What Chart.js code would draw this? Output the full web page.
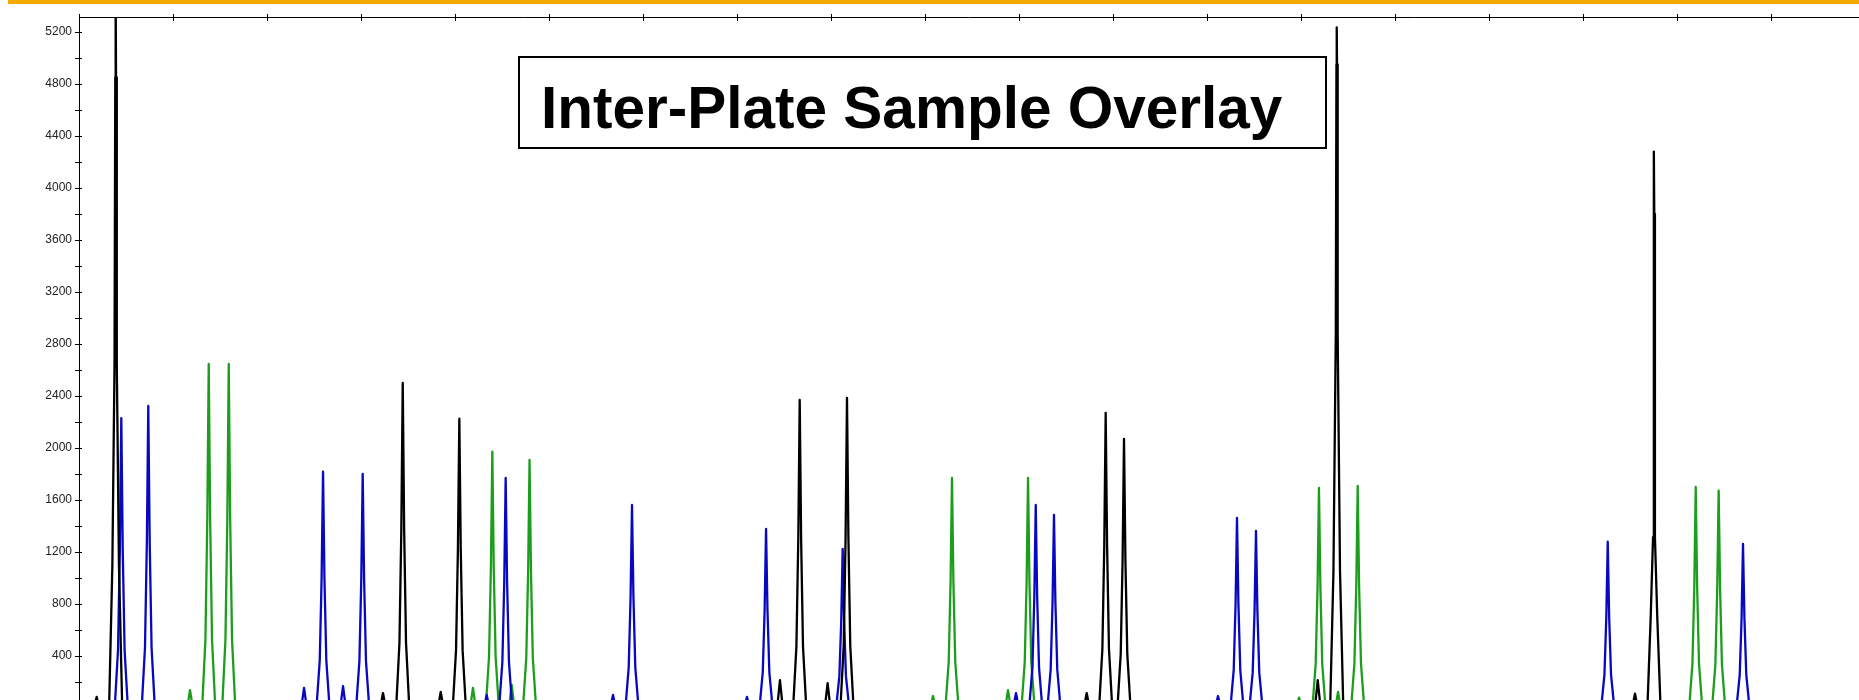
<!DOCTYPE html>
<html><head><meta charset="utf-8">
<script src="https://cdn.jsdelivr.net/npm/chart.js@4.4.1/dist/chart.umd.min.js"></script>
<style>html,body{margin:0;padding:0;background:#fff;overflow:hidden}canvas{display:block}</style>
</head><body>
<canvas id="c" width="1859" height="700"></canvas>
<script>
const chartTitle = 'Inter-Plate Sample Overlay';
const yLabelValues = [400, 800, 1200, 1600, 2000, 2400, 2800, 3200, 3600, 4000, 4400, 4800, 5200];

const blackX = [
  81.58, 81.88, 82.18,
  83.20, 83.55, 83.78, 83.86, 83.90, 83.94, 84.02, 84.25, 84.60,
  112.04, 112.34, 112.64,
  113.74, 114.09, 114.29, 114.44, 114.59, 114.79, 115.14,
  118.18, 118.48, 118.78,
  119.76, 120.11, 120.31, 120.46, 120.61, 120.81, 121.16,
  154.27, 154.57, 154.87,
  155.97, 156.32, 156.52, 156.67, 156.82, 157.02, 157.37,
  159.34, 159.64, 159.94,
  161.00, 161.35, 161.55, 161.70, 161.85, 162.05, 162.40,
  186.90, 187.20, 187.50,
  188.52, 188.87, 189.07, 189.22, 189.37, 189.57, 189.92,
  190.47, 190.82, 191.02, 191.17, 191.32, 191.52, 191.87,
  211.48, 211.78, 212.08,
  213.10, 213.45, 213.70, 213.77, 213.80, 213.83, 213.90, 214.15, 214.50,
  245.23, 245.53, 245.83,
  246.85, 247.20, 247.45, 247.52, 247.55, 247.58, 247.65, 247.90, 248.25
];
const blackY = [
  0, 85, 0,
  0, 1100, 2650, 4850, 5500, 4850, 2650, 1100, 0,
  0, 115, 0,
  0, 500, 1375, 2500, 1375, 500, 0,
  0, 123, 0,
  0, 445, 1224, 2225, 1224, 445, 0,
  0, 215, 0,
  0, 474, 1304, 2370, 1304, 474, 0,
  0, 192, 0,
  0, 477, 1312, 2385, 1312, 477, 0,
  0, 115, 0,
  0, 454, 1249, 2270, 1249, 454, 0,
  0, 414, 1139, 2070, 1139, 414, 0,
  0, 215, 0,
  0, 1047, 2879, 4950, 5235, 4950, 2879, 1047, 0,
  0, 110, 0,
  0, 700, 1315, 3800, 4280, 3800, 1315, 700, 0
];

const blueX = [
  83.80, 84.15, 84.35, 84.50, 84.65, 84.85, 85.20,
  86.67, 87.02, 87.22, 87.37, 87.52, 87.72, 88.07,
  103.64, 103.94, 104.24,
  105.26, 105.61, 105.81, 105.96, 106.11, 106.31, 106.66,
  107.79, 108.09, 108.39,
  109.48, 109.83, 110.03, 110.18, 110.33, 110.53, 110.88,
  123.07, 123.37, 123.67,
  124.69, 125.04, 125.24, 125.39, 125.54, 125.74, 126.09,
  136.51, 136.81, 137.11,
  138.13, 138.48, 138.68, 138.83, 138.98, 139.18, 139.53,
  150.76, 151.06, 151.36,
  152.39, 152.74, 152.94, 153.09, 153.24, 153.44, 153.79,
  160.54, 160.89, 161.09, 161.24, 161.39, 161.59, 161.94,
  179.38, 179.68, 179.98,
  181.08, 181.43, 181.63, 181.78, 181.93, 182.13, 182.48,
  183.02, 183.37, 183.57, 183.72, 183.87, 184.07, 184.42,
  200.87, 201.17, 201.47,
  202.49, 202.84, 203.04, 203.19, 203.34, 203.54, 203.89,
  204.51, 204.86, 205.06, 205.21, 205.36, 205.56, 205.91,
  241.93, 242.28, 242.48, 242.63, 242.78, 242.98, 243.33,
  256.32, 256.67, 256.87, 257.02, 257.17, 257.37, 257.72
];
const blueY = [
  0, 446, 1227, 2230, 1227, 446, 0,
  0, 465, 1278, 2323, 1278, 465, 0,
  0, 154, 0,
  0, 364, 1000, 1818, 1000, 364, 0,
  0, 169, 0,
  0, 360, 990, 1800, 990, 360, 0,
  0, 100, 0,
  0, 354, 973, 1769, 973, 354, 0,
  0, 100, 0,
  0, 312, 859, 1562, 859, 312, 0,
  0, 85, 0,
  0, 275, 757, 1377, 757, 275, 0,
  0, 245, 673, 1223, 673, 245, 0,
  0, 115, 0,
  0, 312, 859, 1562, 859, 312, 0,
  0, 297, 817, 1485, 817, 297, 0,
  0, 92, 0,
  0, 292, 804, 1462, 804, 292, 0,
  0, 272, 749, 1362, 749, 272, 0,
  0, 256, 703, 1279, 703, 256, 0,
  0, 252, 694, 1262, 694, 252, 0
];

const greenX = [
  91.51, 91.81, 92.11,
  93.10, 93.45, 93.65, 93.80, 93.95, 94.15, 94.50,
  95.23, 95.58, 95.78, 95.93, 96.08, 96.28, 96.63,
  121.61, 121.91, 122.21,
  123.27, 123.62, 123.82, 123.97, 124.12, 124.32, 124.67,
  125.73, 126.03, 126.33,
  127.23, 127.58, 127.78, 127.93, 128.08, 128.28, 128.63,
  170.55, 170.85, 171.15,
  172.17, 172.52, 172.72, 172.87, 173.02, 173.22, 173.57,
  178.53, 178.83, 179.13,
  180.26, 180.61, 180.81, 180.96, 181.11, 181.31, 181.66,
  209.49, 209.79, 210.09,
  211.21, 211.56, 211.76, 211.91, 212.06, 212.26, 212.61,
  213.64, 213.94, 214.24,
  215.33, 215.68, 215.88, 216.03, 216.18, 216.38, 216.73,
  251.29, 251.64, 251.84, 251.99, 252.14, 252.34, 252.69,
  253.73, 254.08, 254.28, 254.43, 254.58, 254.78, 255.13
];
const greenY = [
  0, 138, 0,
  0, 529, 1455, 2646, 1455, 529, 0,
  0, 529, 1455, 2646, 1455, 529, 0,
  0, 154, 0,
  0, 394, 1085, 1972, 1085, 394, 0,
  0, 177, 0,
  0, 382, 1049, 1908, 1049, 382, 0,
  0, 92, 0,
  0, 354, 973, 1769, 973, 354, 0,
  0, 138, 0,
  0, 354, 973, 1769, 973, 354, 0,
  0, 80, 0,
  0, 338, 931, 1692, 931, 338, 0,
  0, 123, 0,
  0, 342, 939, 1708, 939, 342, 0,
  0, 340, 935, 1700, 935, 340, 0,
  0, 334, 920, 1672, 920, 334, 0
];

function pts(xs, ys) { return xs.map((x, i) => ({ x: x, y: ys[i] })); }

const decor = {
  id: 'decor',
  beforeDraw(chart) {
    const ctx = chart.ctx;
    ctx.save();
    ctx.fillStyle = '#ffffff';
    ctx.fillRect(0, 0, chart.width, chart.height);
    ctx.fillStyle = '#F4AA00';
    ctx.fillRect(8, 0, chart.width - 8, 4);
    ctx.restore();
  },
  afterDraw(chart) {
    const ctx = chart.ctx, a = chart.chartArea, xs = chart.scales.x, ys = chart.scales.y;
    ctx.save();
    ctx.strokeStyle = '#000';
    ctx.lineWidth = 1;
    ctx.beginPath();
    xs.ticks.forEach(t => {
      const px = Math.round(xs.getPixelForValue(t.value)) + 0.5;
      ctx.moveTo(px, a.top - 3); ctx.lineTo(px, a.top + 4);
    });
    ys.ticks.forEach(t => {
      const py = Math.round(ys.getPixelForValue(t.value)) + 0.5;
      ctx.moveTo(a.left - 4, py); ctx.lineTo(a.left + 3, py);
    });
    ctx.moveTo(a.left + 0.5, a.top - 2); ctx.lineTo(a.left + 0.5, a.top);
    ctx.stroke();
    // title box
    ctx.fillStyle = '#fff';
    ctx.fillRect(519, 57, 807, 91);
    ctx.lineWidth = 2;
    ctx.strokeRect(519, 57, 807, 91);
    ctx.fillStyle = '#000';
    ctx.font = 'bold 58.5px "Liberation Sans", Arial, sans-serif';
    ctx.textBaseline = 'alphabetic';
    ctx.textAlign = 'left';
    ctx.fillText(chartTitle, 541, 128);
    ctx.restore();
  }
};

const common = { pointRadius: 0, borderWidth: 2.3, tension: 0, fill: false, borderJoinStyle: 'round' };

new Chart(document.getElementById('c'), {
  type: 'line',
  data: {
    datasets: [
      Object.assign({ label: 'Black', data: pts(blackX, blackY), borderColor: '#000000' }, common),
      Object.assign({ label: 'Blue', data: pts(blueX, blueY), borderColor: '#0808c0' }, common),
      Object.assign({ label: 'Green', data: pts(greenX, greenY), borderColor: '#1c9e1c' }, common)
    ]
  },
  options: {
    responsive: false,
    animation: false,
    devicePixelRatio: 1,
    events: [],
    layout: { padding: 0 },
    plugins: { legend: { display: false }, tooltip: { enabled: false }, title: { display: false } },
    scales: {
      x: {
        type: 'linear', position: 'top', min: 80, max: 269.36,
        afterFit(s) { s.height = 17; s.paddingLeft = 0; s.paddingRight = 0; },
        ticks: { display: false, stepSize: 10, includeBounds: false },
        grid: { display: true, drawOnChartArea: false, drawTicks: false },
        border: { display: true, color: '#000', width: 1 }
      },
      y: {
        type: 'linear', position: 'left', min: 61.5, max: 5315,
        afterFit(s) { s.width = 79; s.paddingTop = 0; s.paddingBottom = 0; },
        ticks: {
          stepSize: 200, includeBounds: false, autoSkip: false, padding: 7,
          color: '#222', font: { family: '"Liberation Sans", Arial, sans-serif', size: 12 },
          callback: (v) => yLabelValues.includes(v) ? String(v) : ''
        },
        grid: { display: true, drawOnChartArea: false, drawTicks: false },
        border: { display: true, color: '#000', width: 1 }
      }
    }
  },
  plugins: [decor]
});
</script>
</body></html>
